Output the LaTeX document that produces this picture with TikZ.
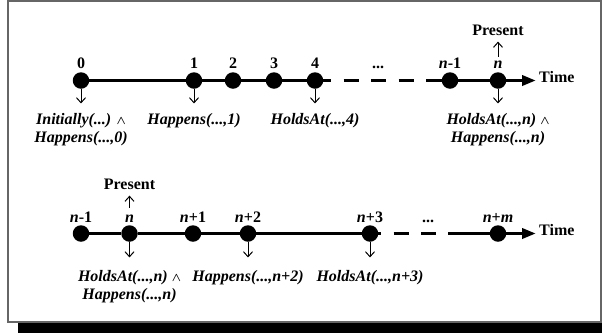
\documentclass[tikz,border=0pt]{standalone}
\usepackage{amsmath, bm}
\usepackage{fontspec}
\setmainfont{Liberation Serif}
\usetikzlibrary{arrows.meta, positioning}
\newcommand{\andsign}{{\fontsize{12.5}{12.5}\selectfont$\bm{\wedge}$}}
\tikzset{
	tick/.style = {line width=1pt, -{Straight Barb[length=5pt, width=9pt]}},
	event/.style = {font=\fontsize{16}{17.5}\selectfont\bfseries\itshape, align=center, inner sep=0pt}
}

\begin{document}
\begin{tikzpicture}[x=1pt, y=-1pt]
            \tikzstyle{dot} = [circle, fill=black, inner sep=0pt, minimum size=16.5pt]
            \tikzstyle{num} = [inner sep=0pt, font=\fontsize{16}{17.5}\selectfont\bfseries]
            \tikzstyle{axis} = [line width=3.5pt]
            \tikzstyle{gap} = [axis, dash pattern=on 15pt off 12.5pt, dash phase=15pt]
            \tikzstyle{timearrow} = [axis, -{Triangle[length=14pt, width=10pt]}]
            \useasboundingbox (0,0) rectangle (602,333);
            % frame with its shadow
            \fill[black] (18,322) rectangle (602,333);
            \fill[black] (601,10) rectangle (602,322);
            \draw[black!60, line width=1.5pt] (8,1) rectangle (601,322);

            % upper time line
            \node [dot] (a0) at (81,80.5) {};
            \node [dot] (a1) at (194,80.5) {};
            \node [dot] (a2) at (233,80.5) {};
            \node [dot] (a3) at (274,80.5) {};
            \node [dot] (a4) at (315,80.5) {};
            \node [dot] (an1) at (450,80.5) {};
            \node [dot] (an) at (498,80.5) {};
            \coordinate (g1) at (331,80.5);
            \coordinate (g2) at (427,80.5);
            \coordinate (end1) at (536,80.5);
            \draw [axis] (a0) -- (a1) -- (a2) -- (a3) -- (a4) -- (g1);
            \draw [gap] (g1) -- (g2);
            \draw [axis] (g2) -- (an1) -- (an);
            \draw [timearrow] (an) -- (end1);
            \node [num, anchor=mid west] (time1) at (539,80.5) {Time};
            \node [num, anchor=base] (dots1) at (378,68.5) {...};

            \node [num, above=3.5pt of a0] (la0) {0};
            \node [num, above=3.5pt of a1] (la1) {1};
            \node [num, above=3.5pt of a2] (la2) {2};
            \node [num, above=3.5pt of a3] (la3) {3};
            \node [num, above=3.5pt of a4] (la4) {4};
            \node [num, above=3.5pt of an1] (lan1) {\textit{n}-1};
            \node [num, above=3.5pt of an] (lan) {\textit{n}};
            \node [num, above=25pt of lan] (present1) {Present};
            \draw [tick, shorten <=4pt, shorten >=6pt] (lan) -- (present1);

            \node [event, below=24.5pt of a0] (ea0) {Initially(...) \andsign\\Happens(...,0)};
            \node [event, below=24.5pt of a1] (ea1) {Happens(...,1)};
            \node [event, below=24.5pt of a4] (ea4) {HoldsAt(...,4)};
            \node [event, below=24.5pt of an] (ean) {HoldsAt(...,n) \andsign\\Happens(...,n)};
            \draw [tick, shorten >=10pt] (a0) -- (ea0);
            \draw [tick, shorten >=10pt] (a1) -- (ea1);
            \draw [tick, shorten >=10pt] (a4) -- (ea4);
            \draw [tick, shorten >=10pt] (an) -- (ean);

            % lower time line
            \node [dot] (b1) at (81,233.5) {};
            \node [dot] (b2) at (129.5,233.5) {};
            \node [dot] (b3) at (193,233.5) {};
            \node [dot] (b4) at (248,233.5) {};
            \node [dot] (b5) at (370,233.5) {};
            \node [dot] (b6) at (498,233.5) {};
            \coordinate (h1) at (381,233.5);
            \coordinate (h2) at (448,233.5);
            \coordinate (end2) at (536,233.5);
            \draw [axis] (b1) -- (b2) -- (b3) -- (b4) -- (b5) -- (h1);
            \draw [gap] (h1) -- (h2);
            \draw [axis] (h2) -- (b6);
            \draw [timearrow] (b6) -- (end2);
            \node [num, anchor=mid west] (time2) at (539,233.5) {Time};
            \node [num, anchor=base] (dots2) at (428,222) {...};

            \node [num, above=2.5pt of b1] (lb1) {\textit{n}-1};
            \node [num, above=2.5pt of b2] (lb2) {\textit{n}};
            \node [num, above=2.5pt of b3] (lb3) {\textit{n}+1};
            \node [num, above=2.5pt of b4] (lb4) {\textit{n}+2};
            \node [num, above=2.5pt of b5] (lb5) {\textit{n}+3};
            \node [num, above=2.5pt of b6] (lb6) {\textit{n}+\textit{m}};
            \node [num, above=25pt of lb2] (present2) {Present};
            \draw [tick, shorten <=7pt, shorten >=6pt] (lb2) -- (present2);

            \node [event, below=28.5pt of b2] (eb2) {HoldsAt(...,n) \andsign\\Happens(...,n)};
            \node [event, below=28.5pt of b4] (eb4) {Happens(...,n+2)};
            \node [event, below=28.5pt of b5] (eb5) {HoldsAt(...,n+3)};
            \draw [tick, shorten >=13pt] (b2) -- (eb2);
            \draw [tick, shorten >=13pt] (b4) -- (eb4);
            \draw [tick, shorten >=13pt] (b5) -- (eb5);
\end{tikzpicture}
\end{document}
